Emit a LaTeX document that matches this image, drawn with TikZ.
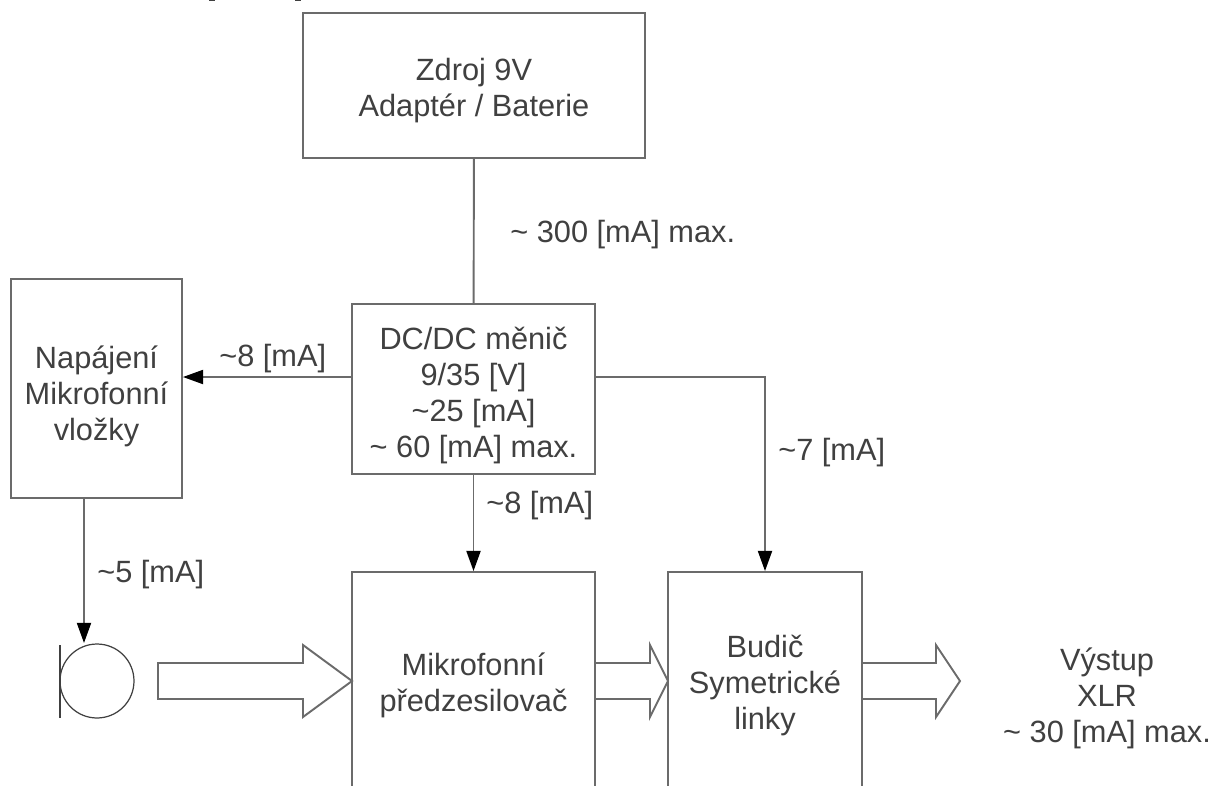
\documentclass[tikz,border=0pt]{standalone}
\usepackage{fontspec}
\setmainfont{Liberation Sans}
\usetikzlibrary{calc,positioning,arrows.meta}
\definecolor{linegray}{gray}{0.42}
\definecolor{textgray}{gray}{0.25}
\tikzset{blockedge/.style={draw=linegray,line width=1.1pt}}
\newcommand{\lowstrut}[1]{\rule{0pt}{#1pt}}

\begin{document}
\begin{tikzpicture}[x=0.02cm,y=-0.02cm,font=\fontsize{17.5}{20.5}\selectfont,text=textgray]

\tikzset{boxnode/.style={blockedge,shape=rectangle,align=center,inner sep=0pt},
textnode/.style={align=center,inner sep=0pt},
feed/.style={blockedge,-{Triangle[length=11.5pt,width=8pt,black]}},
bigarrow/.style={blockedge,line join=miter,fill=white},
micnode/.style={shape=circle,draw=black!75,line width=0.7pt,inner sep=0pt,minimum size=1.48cm}}

% Page
\clip (0,0) rectangle (1214,785);

% Cut off marks
\draw[textgray,line width=0.8pt] (209,0) -- (215,0);
\draw[textgray,line width=0.8pt] (295,0) -- (301,0);

% Blocks
\node[boxnode,minimum width=6.84cm,minimum height=2.9cm] (zdroj) at (474,85.5) {\lowstrut{18.2}Zdroj 9V\\Adaptér / Baterie};
\node[boxnode,minimum width=4.86cm,minimum height=3.4cm] (menic) at (473.5,389) {\lowstrut{20.3}DC/DC měnič\\9/35 [V]\\\textasciitilde25 [mA]\\\textasciitilde{} 60 [mA] max.};
\node[boxnode,minimum width=3.42cm,minimum height=4.38cm] (napajeni) at (96.5,388.5) {\lowstrut{21.6}Napájení\\Mikrofonní\\vložky};
\node[boxnode,minimum width=4.86cm,minimum height=4.36cm] (predzes) at (473.5,681) {\lowstrut{17.3}Mikrofonní\\předzesilovač};
\node[boxnode,minimum width=3.88cm,minimum height=4.36cm] (budic) at (765,681) {\lowstrut{17.3}Budič\\Symetrické\\linky};

% Microphone
\node[micnode] (mic) at (97,681) {};
\coordinate (barTop) at (60,645);
\coordinate (barBottom) at (60,718);
\draw[black!75,line width=0.8pt] (barTop) -- (barBottom);

% Supply edges
\coordinate (napOut) at ($(napajeni.south)+(-12.5,0)$);
\coordinate (micIn) at (84,643);
\coordinate (leftOut) at ($(menic.west)+(0,-12)$);
\coordinate (rightOut) at ($(menic.east)+(0,-12)$);
\coordinate (rightTurn) at (budic.north |- rightOut);
\draw[blockedge] (zdroj) -- (menic);
\draw[feed] (leftOut) -- (napajeni.east |- leftOut);
\draw[feed] (menic) -- (predzes);
\draw[feed] (rightOut) -- (rightTurn) -- (budic.north);
\draw[feed] (napOut) -- (micIn);

% Signal arrows
\foreach \xa/\xb/\xc in {158/303/352,595/650/668,862/936/960} \draw[bigarrow] (\xa,663) -- (\xb,663) -- (\xb,645) -- (\xc,681) -- (\xb,717) -- (\xb,699) -- (\xa,699) -- cycle;

% Currents
\node[textnode,anchor=west] (proud1) at (510,235) {\textasciitilde{} 300 [mA] max.};
\node[textnode,anchor=west] (proud2) at (219,359) {\textasciitilde8 [mA]};
\node[textnode,anchor=west] (proud3) at (778,453) {\textasciitilde7 [mA]};
\node[textnode,anchor=west] (proud4) at (486,506) {\textasciitilde8 [mA]};
\node[textnode,anchor=west] (proud5) at (97,575) {\textasciitilde5 [mA]};

% Output
\node[textnode] (vystup) at (1107,698) {Výstup\\XLR\\\textasciitilde{} 30 [mA] max.};

\end{tikzpicture}
\end{document}
